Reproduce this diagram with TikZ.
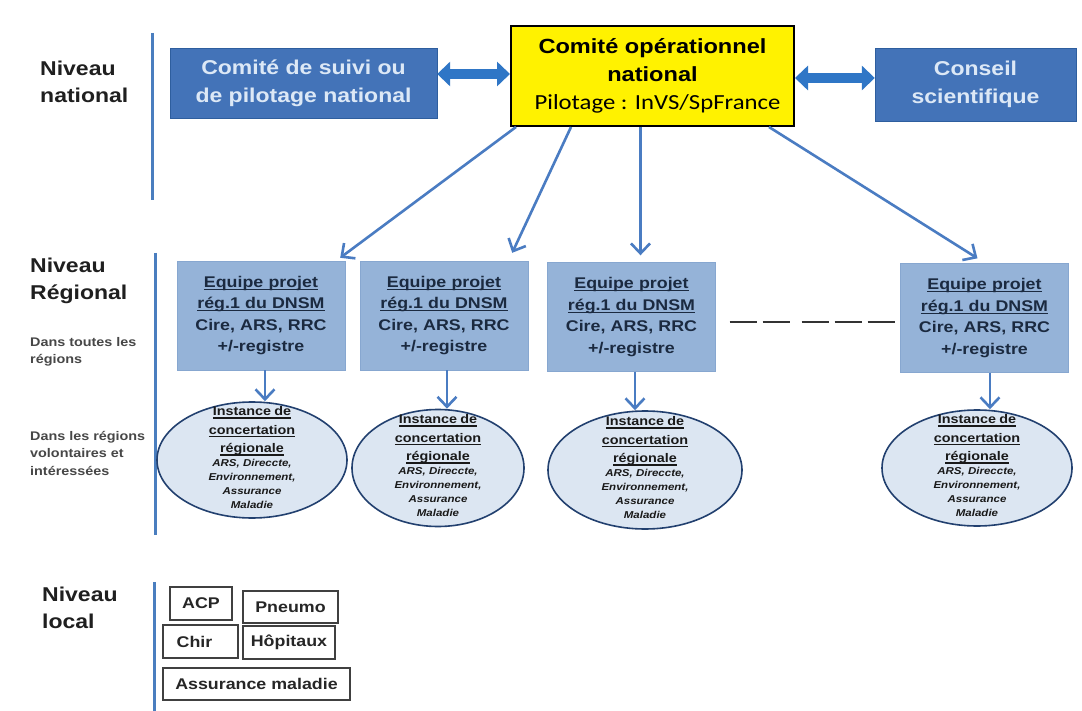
\documentclass[tikz,border=0pt]{standalone}
\usepackage{fontspec}
\setmainfont{Liberation Sans}[FakeStretch=1.15]
\newfontfamily\pilotfont{Carlito}[FakeStretch=1.15]
\usetikzlibrary{shapes.geometric,arrows.meta}

\newsavebox\ulinbox
\newcommand{\ulin}[1]{\leavevmode\sbox\ulinbox{#1}\rlap{\rule[-2.6pt]{\wd\ulinbox}{1.1pt}}\usebox\ulinbox}

\definecolor{natblue}{HTML}{4373B8}
\definecolor{natline}{HTML}{2E5E9E}
\definecolor{natfont}{HTML}{DCE8F6}
\definecolor{regblue}{HTML}{95B3D8}
\definecolor{regline}{HTML}{87A7D0}
\definecolor{regfont}{HTML}{1B2A40}
\definecolor{instfill}{HTML}{DCE6F2}
\definecolor{instline}{HTML}{22406F}
\definecolor{arrblue}{HTML}{4A7CC2}
\definecolor{barblue}{HTML}{2F76C6}
\definecolor{levblue}{HTML}{4A7EBF}

\begin{document}
\begin{tikzpicture}
  [x=1pt, y=-1pt,
   levtext/.style={anchor=west, align=left, inner sep=0pt, text=black!88,
     font=\fontsize{20}{27}\selectfont\bfseries},
   subtext/.style={anchor=west, align=left, inner sep=0pt, text=black!72,
     font=\fontsize{12.5}{17.5}\selectfont\bfseries},
   natbox/.style={draw=natline, fill=natblue, text=natfont, align=center, inner sep=0pt,
     font=\fontsize{20}{28}\selectfont\bfseries},
   opbox/.style={draw=black, line width=2pt, fill=yellow, align=center, inner sep=0pt,
     minimum width=283pt, minimum height=100pt, font=\fontsize{20.5}{28}\selectfont\bfseries},
   regbox/.style={draw=regline, fill=regblue, text=regfont, inner sep=0pt,
     minimum width=168pt, minimum height=109pt, text width=168pt, align=center,
     font=\fontsize{15.5}{21.5}\selectfont\bfseries},
   instell/.style={ellipse, draw=instline, line width=1.6pt, fill=instfill, inner sep=0pt},
   insttext/.style={text width=150pt, align=center, inner sep=0pt, text=black!90},
   localbox/.style={draw=black!75, line width=1.2pt, fill=white, inner sep=0pt, text=black!85,
     font=\fontsize{15.5}{18}\selectfont\bfseries},
   downarr/.style={draw=arrblue, line width=2.6pt,
     -{Straight Barb[length=10pt,width=19pt,line width=2.6pt]}},
   dblarr/.style={draw=barblue, line width=10pt,
     {Triangle[length=13pt,width=24pt]}-{Triangle[length=13pt,width=24pt]}},
%   dashline/.style={dashed},
   dashline/.style={draw=black!80, line width=2pt,
     dash pattern=on 27pt off 6pt on 27pt off 12pt on 27pt off 6pt on 27pt off 6pt on 27pt},
   levbar/.style={draw=levblue, line width=3pt}
  ]
  \fill[white] (0,0) rectangle (1082,711);
  \useasboundingbox (0,0) rectangle (1082,711);

  % niveau national
  \node[levtext] (nivnat) at (40,82) {Niveau\\national};
  \draw[levbar] (152,33) -- (152,200);
  \node[natbox, minimum width=267pt, minimum height=70pt] (suivi) at (303.5,83)
    {Comit\'e de suivi ou\\de pilotage national};
  \node[opbox] (opnat) at (652.5,76)
    {Comité opérationnel\\national\\{\pilotfont\mdseries\fontsize{21.5}{28}\selectfont\hspace*{10pt}Pilotage : InVS/SpFrance}};
  \node[natbox, minimum width=201pt, minimum height=73pt] (conseil) at (975.5,84.5)
    {Conseil\\scientifique};
  \draw[dblarr] (suivi.east |- 0,74) -- (opnat.west |- 0,74);
  \draw[dblarr] (opnat.east |- 0,78) -- (conseil.west |- 0,78);

  % niveau regional
  \node[levtext] (nivreg) at (30,281) {Niveau\\Régional};
  \node[subtext] (toutes) at (30,352) {Dans toutes les\\régions};
  \node[subtext] (volont) at (30,453) {Dans les régions\\volontaires et\\intéressées};
  \draw[levbar] (155,253) -- (155,535);

  \node[regbox] (reg1) at (261,315.5)
    {\ulin{Equipe projet}\\\ulin{rég.1 du DNSM}\\Cire, ARS, RRC\\+/-registre};
  \node[regbox] (reg2) at (444,315.5)
    {\ulin{Equipe projet}\\\ulin{rég.1 du DNSM}\\Cire, ARS, RRC\\+/-registre};
  \node[regbox] (reg3) at (631.5,317)
    {\ulin{Equipe projet}\\\ulin{rég.1 du DNSM}\\Cire, ARS, RRC\\+/-registre};
  \node[regbox] (reg4) at (984.5,318)
    {\ulin{Equipe projet}\\\ulin{rég.1 du DNSM}\\Cire, ARS, RRC\\+/-registre};

  \draw[downarr] ([xshift=6pt]opnat.south west) -- ([xshift=-5pt,yshift=3pt]reg1.north east);
  \draw[downarr] ([xshift=61pt]opnat.south west) -- ([xshift=-16pt,yshift=8pt]reg2.north east);
  \draw[downarr, shorten >=7pt] ([xshift=-12pt]opnat.south) -- ([xshift=-12pt]opnat.south |- reg3.north);
  \draw[downarr] ([xshift=-26pt]opnat.south east) -- ([xshift=-7pt,yshift=5pt]reg4.north);
  \draw[dashline, shorten <=14pt, shorten >=3pt] ([yshift=-5pt]reg3.east) -- ([yshift=-4pt]reg4.west);

  \node[instell, minimum width=190pt, minimum height=116pt] (inst1) at (252,460) {};
  \node[instell, minimum width=172pt, minimum height=117pt] (inst2) at (438,468) {};
  \node[instell, minimum width=194pt, minimum height=118pt] (inst3) at (645,470) {};
  \node[instell, minimum width=190pt, minimum height=116pt] (inst4) at (977,468) {};
  \foreach \k in {1,2,3,4} {
    \node[insttext] (instt\k) at ([yshift=2pt]inst\k.center)
      {{\fontsize{12.5}{18.5}\selectfont\bfseries\ulin{Instance de}\\\ulin{concertation}\\\ulin{régionale}\par}
       {\fontsize{10}{14}\selectfont\bfseries\itshape ARS, Direccte,\\Environnement,\\Assurance\\Maladie\par}};
  }
  \draw[downarr] ([xshift=4pt]reg1.south) -- ([xshift=4pt]reg1.south |- inst1.north);
  \draw[downarr] ([xshift=3pt]reg2.south) -- ([xshift=3pt]reg2.south |- inst2.north);
  \draw[downarr] ([xshift=3.5pt]reg3.south) -- ([xshift=3.5pt]reg3.south |- inst3.north);
  \draw[downarr] ([xshift=5.5pt]reg4.south) -- ([xshift=5.5pt]reg4.south |- inst4.north);

  % niveau local
  \node[levtext] (nivloc) at (42,608) {Niveau\\local};
  \draw[levbar] (154,582) -- (154,711);
  \node[localbox, minimum width=62pt, minimum height=33pt] (acp) at (201,603.5) {ACP};
  \node[localbox, minimum width=95pt, minimum height=32pt] (pneumo) at (290.5,607) {Pneumo};
  \node[localbox, minimum width=75pt, minimum height=33pt] (chir) at (200.5,641.5) {Chir\hspace*{12pt}};
  \node[localbox, minimum width=92pt, minimum height=33pt] (hopit) at (289,642.5) {Hôpitaux};
  \node[localbox, minimum width=187pt, minimum height=32pt] (assur) at (256.5,684) {Assurance maladie};
\end{tikzpicture}
\end{document}
